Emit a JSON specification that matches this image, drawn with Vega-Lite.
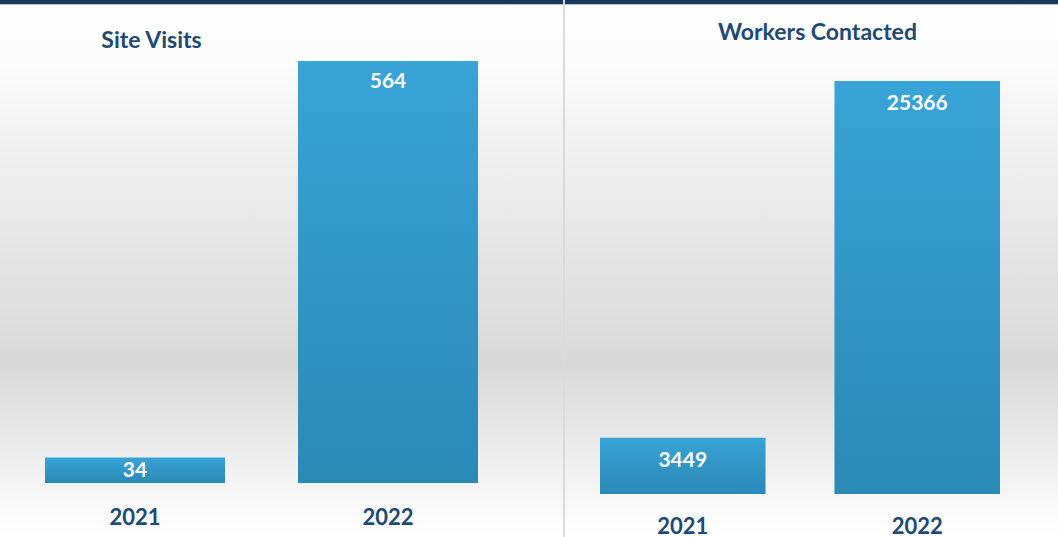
{
  "$schema": "https://vega.github.io/schema/vega-lite/v6.json",
  "padding": 0,
  "spacing": 2,
  "background": "#dadada",
  "config": {
    "view": {"stroke": null},
    "font": "Lato",
    "title": {"font": "Lato", "fontSize": 23, "fontWeight": "bold", "color": "#1d4a75", "baseline": "alphabetic"},
    "axis": {"labelFont": "Lato"}
  },
  "datasets": {
    "sv": [
      {"year": "2021", "value": 34},
      {"year": "2022", "value": 564}
    ],
    "wc": [
      {"year": "2021", "value": 3449},
      {"year": "2022", "value": 25366}
    ]
  },
  "hconcat": [
    {
      "width": 563,
      "height": 537,
      "view": {"stroke": null, "fill": {"gradient": "linear", "x1": 0, "y1": 0, "x2": 0, "y2": 1, "stops": [
        {"offset": 0, "color": "#163a5e"}, {"offset": 0.007, "color": "#163a5e"}, {"offset": 0.009, "color": "#ffffff"},
        {"offset": 0.12, "color": "#fbfbfb"}, {"offset": 0.4, "color": "#e9e9e9"}, {"offset": 0.68, "color": "#d8d8d8"},
        {"offset": 0.86, "color": "#efefef"}, {"offset": 1, "color": "#ffffff"}]}},
      "title": {"text": "Site Visits", "offset": -53, "anchor": "middle", "dx": -130},
      "data": {"name": "sv"},
      "encoding": {
        "x": {"field": "year", "type": "nominal", "scale": {"range": [45, 478], "paddingInner": 0.2885, "paddingOuter": 0},
              "axis": {"title": null, "domain": false, "ticks": false, "labelAngle": 0, "labelFontSize": 22, "labelFontWeight": "bold", "labelColor": "#1d4a75", "labelBaseline": "middle", "labelPadding": 0, "offset": -20}},
        "y": {"field": "value", "type": "quantitative", "scale": {"domain": [-72.2, 645.4], "nice": false, "zero": false}, "axis": null}
      },
      "layer": [
        {"mark": {"type": "bar", "color": {"gradient": "linear", "x1": 0, "y1": 0, "x2": 0, "y2": 1, "stops": [{"offset": 0, "color": "#38a4d7"}, {"offset": 1, "color": "#2a88b5"}]}},
         "encoding": {"y2": {"datum": 0}}},
        {"transform": [{"filter": "datum.year == '2021'"}],
         "mark": {"type": "text", "baseline": "middle", "dy": 13, "color": "white", "fontSize": 21, "fontWeight": "bold"},
         "encoding": {"text": {"field": "value", "type": "quantitative", "format": "d"}}},
        {"transform": [{"filter": "datum.year == '2022'"}],
         "mark": {"type": "text", "baseline": "middle", "dy": 21, "color": "white", "fontSize": 21, "fontWeight": "bold"},
         "encoding": {"text": {"field": "value", "type": "quantitative", "format": "d"}}}
      ]
    },
    {
      "width": 493,
      "height": 537,
      "view": {"stroke": null, "fill": {"gradient": "linear", "x1": 0, "y1": 0, "x2": 0, "y2": 1, "stops": [
        {"offset": 0, "color": "#163a5e"}, {"offset": 0.007, "color": "#163a5e"}, {"offset": 0.009, "color": "#ffffff"},
        {"offset": 0.12, "color": "#fbfbfb"}, {"offset": 0.4, "color": "#e9e9e9"}, {"offset": 0.68, "color": "#d8d8d8"},
        {"offset": 0.86, "color": "#efefef"}, {"offset": 1, "color": "#ffffff"}]}},
      "title": {"text": "Workers Contacted", "offset": -45, "anchor": "middle", "dx": 6},
      "data": {"name": "wc"},
      "encoding": {
        "x": {"field": "year", "type": "nominal", "scale": {"range": [35, 435], "paddingInner": 0.294, "paddingOuter": 0},
              "axis": {"title": null, "domain": false, "ticks": false, "labelAngle": 0, "labelFontSize": 22, "labelFontWeight": "bold", "labelColor": "#1d4a75", "labelBaseline": "middle", "labelPadding": 0, "offset": -11}},
        "y": {"field": "value", "type": "quantitative", "scale": {"domain": [-2641, 30341], "nice": false, "zero": false}, "axis": null}
      },
      "layer": [
        {"mark": {"type": "bar", "color": {"gradient": "linear", "x1": 0, "y1": 0, "x2": 0, "y2": 1, "stops": [{"offset": 0, "color": "#38a4d7"}, {"offset": 1, "color": "#2a88b5"}]}},
         "encoding": {"y2": {"datum": 0}}},
        {"mark": {"type": "text", "baseline": "middle", "dy": 23, "color": "white", "fontSize": 21, "fontWeight": "bold"},
         "encoding": {"text": {"field": "value", "type": "quantitative", "format": "d"}}}
      ]
    }
  ]
}
